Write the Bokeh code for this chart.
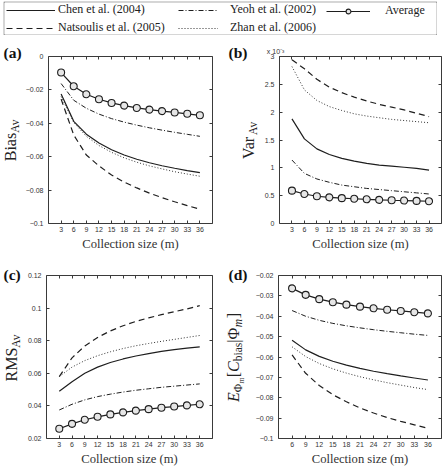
import math
from bokeh.plotting import figure
from bokeh.layouts import column, row
from bokeh.models import (Range1d, LinearAxis, FixedTicker, Legend, LegendItem,
                          Label, CustomJSTickFormatter, Spacer)
from bokeh.embed import file_html
from bokeh.resources import INLINE

# ---------------- data ----------------
collection_size = [3, 6, 9, 12, 15, 18, 21, 24, 27, 30, 33, 36]
collection_size_d = [6, 9, 12, 15, 18, 21, 24, 27, 30, 33, 36]

# (a) Bias_Av
bias_chen = [-0.0224, -0.0388, -0.0465, -0.0518, -0.0558, -0.0590, -0.0615, -0.0636, -0.0654, -0.0669, -0.0683, -0.0695]
bias_natsoulis = [-0.0255, -0.0470, -0.0590, -0.0655, -0.0710, -0.0752, -0.0787, -0.0818, -0.0845, -0.0870, -0.0893, -0.0914]
bias_yeoh = [-0.0162, -0.0262, -0.0310, -0.0345, -0.0372, -0.0393, -0.0411, -0.0427, -0.0441, -0.0454, -0.0466, -0.0478]
bias_zhan = [-0.0240, -0.0395, -0.0478, -0.0533, -0.0574, -0.0607, -0.0633, -0.0655, -0.0673, -0.0690, -0.0704, -0.0717]
bias_average = [-0.0096, -0.0178, -0.0226, -0.0256, -0.0278, -0.0294, -0.0308, -0.0318, -0.0327, -0.0335, -0.0343, -0.0352]

# (b) Var_Av  (x 10^-3)
var_chen = [1.88, 1.52, 1.34, 1.24, 1.17, 1.12, 1.08, 1.05, 1.03, 1.01, 0.99, 0.96]
var_natsoulis = [2.94, 2.78, 2.59, 2.45, 2.35, 2.27, 2.20, 2.14, 2.09, 2.04, 1.98, 1.92]
var_yeoh = [1.14, 0.90, 0.80, 0.74, 0.69, 0.66, 0.63, 0.61, 0.59, 0.57, 0.55, 0.53]
var_zhan = [2.82, 2.40, 2.21, 2.10, 2.03, 1.97, 1.93, 1.90, 1.87, 1.85, 1.83, 1.81]
var_average = [0.59, 0.53, 0.49, 0.47, 0.455, 0.445, 0.435, 0.425, 0.418, 0.412, 0.406, 0.40]

# (c) RMS_Av
rms_chen = [0.049, 0.0548, 0.0600, 0.0638, 0.0666, 0.0688, 0.0706, 0.0721, 0.0734, 0.0745, 0.0754, 0.0762]
rms_natsoulis = [0.058, 0.0695, 0.0768, 0.0820, 0.0860, 0.0892, 0.0918, 0.0940, 0.0960, 0.0978, 0.0995, 0.1015]
rms_yeoh = [0.0375, 0.0410, 0.0437, 0.0457, 0.0472, 0.0485, 0.0496, 0.0505, 0.0514, 0.0521, 0.0528, 0.0535]
rms_zhan = [0.058, 0.0638, 0.0678, 0.0708, 0.0732, 0.0752, 0.0769, 0.0783, 0.0796, 0.0808, 0.0820, 0.0832]
rms_average = [0.026, 0.029, 0.0315, 0.0333, 0.0348, 0.0360, 0.0371, 0.0380, 0.0389, 0.0396, 0.0403, 0.0410]

# (d) E[C_bias | Phi_m]
cbias_chen = [-0.0518, -0.0565, -0.0597, -0.0621, -0.0640, -0.0656, -0.0670, -0.0682, -0.0693, -0.0703, -0.0713]
cbias_natsoulis = [-0.0590, -0.0680, -0.0740, -0.0785, -0.0820, -0.0850, -0.0875, -0.0897, -0.0916, -0.0933, -0.0950]
cbias_yeoh = [-0.0372, -0.0400, -0.0420, -0.0435, -0.0447, -0.0457, -0.0466, -0.0474, -0.0481, -0.0488, -0.0494]
cbias_zhan = [-0.0550, -0.0598, -0.0632, -0.0658, -0.0679, -0.0697, -0.0712, -0.0726, -0.0738, -0.0750, -0.0760]
cbias_average = [-0.0263, -0.0295, -0.0316, -0.0331, -0.0343, -0.0353, -0.0361, -0.0368, -0.0374, -0.0380, -0.0386]

series_names = ["Chen et al. (2004)", "Natsoulis et al. (2005)", "Yeoh et al. (2002)",
                "Zhan et al. (2006)", "Average"]

bias_ticks = [0, -0.02, -0.04, -0.06, -0.08, -0.1]
bias_tick_labels = ["0", "\u22120.02", "\u22120.04", "\u22120.06", "\u22120.08", "\u22120.1"]
var_ticks = [0, 0.5, 1, 1.5, 2, 2.5, 3]
var_tick_labels = ["0", "0.5", "1", "1.5", "2", "2.5", "3"]
rms_ticks = [0.02, 0.04, 0.06, 0.08, 0.1, 0.12]
rms_tick_labels = ["0.02", "0.04", "0.06", "0.08", "0.1", "0.12"]
cbias_ticks = [-0.02, -0.03, -0.04, -0.05, -0.06, -0.07, -0.08, -0.09, -0.1]
cbias_tick_labels = ["\u22120.02", "\u22120.03", "\u22120.04", "\u22120.05", "\u22120.06",
                     "\u22120.07", "\u22120.08", "\u22120.09", "\u22120.1"]
x_label = "Collection size (m)"
var_scale_label = "x 10\u207b\u00b3\u00a0\u00a0\u00a0\u00a0"

# ---------------- styles ----------------
INK = "#1e1e1e"
STYLE = {
    "chen": dict(line_color=INK, line_width=1.2, line_dash="solid"),
    "natsoulis": dict(line_color=INK, line_width=1.2, line_dash="6 4"),
    "yeoh": dict(line_color=INK, line_width=1.0, line_dash="5 2 1 2"),
    "zhan": dict(line_color="#333333", line_width=1.0, line_dash="1 2"),
    "average": dict(line_color=INK, line_width=1.2, line_dash="solid"),
}
SERIF = "Liberation Serif"
SANS = "Liberation Sans"
TICK_FS = "7px"
MID = 0.3375  # em-box middle above the baseline (Liberation Serif)


def no_frame_align(f):
    if "frame_align" in f.properties():
        f.frame_align = False


def mirror_axis(ticks, overrides=None):
    ax = LinearAxis(ticker=FixedTicker(ticks=ticks),
                    formatter=CustomJSTickFormatter(code="return ''"),
                    major_tick_in=3, major_tick_out=0, minor_tick_in=0, minor_tick_out=0,
                    axis_line_color=None, major_tick_line_color="#3a3a3a",
                    major_label_standoff=0, major_label_text_font_size="1px")
    if overrides:
        ax.major_label_overrides = overrides
        ax.major_label_text_font = SANS
        ax.major_label_text_font_size = TICK_FS
        ax.major_label_text_color = "#333333"
        ax.major_label_standoff = 2
    return ax


def make_panel(xs, data, x_range, y_range, yticks, ylabels, w, h, bl, br, bt, bb,
               top_ticks=None, top_overrides=None):
    p = figure(width=w, height=h, x_range=Range1d(*x_range), y_range=Range1d(*y_range),
               output_backend="svg", toolbar_location=None,
               min_border_left=bl, min_border_right=br, min_border_top=bt, min_border_bottom=bb)
    p.grid.visible = False
    p.outline_line_color = "#3a3a3a"
    p.outline_line_width = 1
    p.border_fill_color = "white"

    xa = p.xaxis[0]
    xa.ticker = FixedTicker(ticks=xs)
    xa.major_tick_in = 3
    xa.major_tick_out = 0
    xa.minor_tick_in = 0
    xa.minor_tick_out = 0
    xa.axis_line_color = None
    xa.major_tick_line_color = "#3a3a3a"
    xa.major_label_text_font = SANS
    xa.major_label_text_font_size = TICK_FS
    xa.major_label_text_color = "#333333"
    xa.major_label_standoff = 3
    xa.axis_label = x_label
    xa.axis_label_text_font = SERIF
    xa.axis_label_text_font_size = "12.6px"
    xa.axis_label_text_font_style = "normal"
    xa.axis_label_text_color = "#333333"
    xa.axis_label_standoff = 2

    ya = p.yaxis[0]
    ya.ticker = FixedTicker(ticks=yticks)
    ya.major_label_overrides = dict(zip(yticks, ylabels))
    ya.major_tick_in = 3
    ya.major_tick_out = 0
    ya.minor_tick_in = 0
    ya.minor_tick_out = 0
    ya.axis_line_color = None
    ya.major_tick_line_color = "#3a3a3a"
    ya.major_label_text_font = SANS
    ya.major_label_text_font_size = TICK_FS
    ya.major_label_text_color = "#333333"
    ya.major_label_standoff = 5

    p.add_layout(mirror_axis(top_ticks or xs, top_overrides), "above")
    p.add_layout(mirror_axis(yticks), "right")

    for key in ["natsoulis", "zhan", "chen", "yeoh"]:
        p.line(xs, data[key], **STYLE[key])
    p.line(xs, data["average"], **STYLE["average"])
    p.scatter(xs, data["average"], marker="circle", size=7, line_color=INK,
              line_width=1.1, fill_color="#e6e6e6")
    return p


def label_fig(w, h):
    f = figure(width=w, height=h, output_backend="svg", toolbar_location=None,
               min_border_left=0, min_border_right=0, min_border_top=0, min_border_bottom=0,
               x_axis_location=None, y_axis_location=None,
               x_range=Range1d(0, 1), y_range=Range1d(0, 1))
    f.grid.visible = False
    f.outline_line_color = None
    no_frame_align(f)
    return f


# width table (em) for Liberation Serif, used to chain rotated label pieces
EM = {"B": .667, "i": .278, "a": .444, "s": .389, "V": .722, "r": .333, "R": .667,
      "M": .889, "S": .556, "A": .722, "v": .5, "[": .333, "|": .2, "]": .333,
      "b": .5, "\u03a6": .762, "m": .778, "E": .611, "C": .667}


def text_len(t, size):
    return sum(EM.get(c, .5) for c in t) * size


def y_label(f, pieces, baseline_x, y_mid):
    total = sum(text_len(t, s) for t, s, st, dx in pieces)
    y = y_mid - total / 2
    for t, s, st, dx in pieces:
        f.add_layout(Label(x=baseline_x + dx - MID * s, y=y, x_units="screen", y_units="screen",
                           text=t, angle=math.pi / 2, text_align="left", text_baseline="middle",
                           text_font=SERIF, text_font_size=f"{s}px", text_font_style=st,
                           text_color="#222222"))
        y += text_len(t, s)


TAG_FS = 15.5


def panel_tag(f, t, x, baseline_y):
    f.add_layout(Label(x=x, y=baseline_y + MID * TAG_FS, x_units="screen", y_units="screen",
                       text=t, text_align="left", text_baseline="middle", text_font=SERIF,
                       text_font_size=f"{TAG_FS}px", text_font_style="bold",
                       text_color="#111111"))


XR = (0, 39)
XRD = (3, 39)
TOP0 = 35                      # page y where the panel rows start
H1, BT1, BB1 = 223, 21, 35     # row 1: frame 56 -> 223
H2, BT2, BB2 = 210, 17, 29     # row 2: frame 275 -> 439
FH1 = H1 - BT1 - BB1
FH2 = H2 - BT2 - BB2

# row 1 widths: label a | panel a | label b | panel b
LA, PA_BL, PA_BR = 22, 24, 9
LB, PB_BL, PB_BR = 40, 16, 1
# row 2 widths
LC, PC_BL, PC_BR = 22, 24, 9
LD, PD_BL, PD_BR = 31, 25, 1
FW1, FW2 = 166, 164

pa = make_panel(collection_size,
                dict(chen=bias_chen, natsoulis=bias_natsoulis, yeoh=bias_yeoh, zhan=bias_zhan, average=bias_average),
                XR, (-0.1, 0), bias_ticks, bias_tick_labels, PA_BL + FW1 + PA_BR, H1, PA_BL, PA_BR, BT1, BB1)
pb_top_ticks = [0] + collection_size
pb_top_labels = {t: "" for t in collection_size}
pb_top_labels[0] = var_scale_label
pb = make_panel(collection_size,
                dict(chen=var_chen, natsoulis=var_natsoulis, yeoh=var_yeoh, zhan=var_zhan, average=var_average),
                XR, (0, 3), var_ticks, var_tick_labels, PB_BL + FW2 + PB_BR, H1, PB_BL, PB_BR, BT1, BB1,
                top_ticks=pb_top_ticks, top_overrides=pb_top_labels)
pc = make_panel(collection_size,
                dict(chen=rms_chen, natsoulis=rms_natsoulis, yeoh=rms_yeoh, zhan=rms_zhan, average=rms_average),
                XR, (0.02, 0.12), rms_ticks, rms_tick_labels, PC_BL + FW1 + PC_BR, H2, PC_BL, PC_BR, BT2, BB2)
pd_ = make_panel(collection_size_d,
                 dict(chen=cbias_chen, natsoulis=cbias_natsoulis, yeoh=cbias_yeoh, zhan=cbias_zhan, average=cbias_average),
                 XRD, (-0.1, -0.02), cbias_ticks, cbias_tick_labels, PD_BL + FW2 + PD_BR, H2, PD_BL, PD_BR, BT2, BB2)

la = label_fig(LA, H1)
lb = label_fig(LB, H1)
lc = label_fig(LC, H2)
ld = label_fig(LD, H2)

BIG, SUB = 16, 11.5
y_label(la, [("Bias", BIG, "normal", 0), ("Av", SUB, "normal", 3)], 15.5, BB1 + FH1 / 2)
y_label(lb, [("Var", BIG, "normal", 0), ("Av", SUB, "normal", 3)], 32.3, BB1 + FH1 / 2)
y_label(lc, [("RMS", BIG, "normal", 0), ("Av", SUB, "normal", 3)], 16.2, BB2 + FH2 / 2)
y_label(ld, [("E", BIG, "italic", 0), ("\u03a6", SUB, "normal", 3), ("m", 8, "italic", 5),
             ("[", BIG, "normal", 0), ("C", BIG, "italic", 0), ("bias", SUB, "normal", 3),
             ("|", BIG, "normal", 0), ("\u03a6", BIG, "normal", 0), ("m", SUB, "italic", 3),
             ("]", BIG, "normal", 0)], 17.7, BB2 + FH2 / 2)

panel_tag(la, "(a)", 3, H1 - (57.5 - TOP0))
panel_tag(lb, "(b)", 7, H1 - (57.5 - TOP0))
panel_tag(lc, "(c)", 3, H2 - (279 - TOP0 - H1))
panel_tag(ld, "(d)", 7, H2 - (279 - TOP0 - H1))

# ---------------- legend figure ----------------
# legend samples reuse series data; the ranges keep them out of view.
# a 1px border fill around a white frame draws the legend box.
LEG_W, LEG_H = 434, 34
pl = figure(width=LEG_W, height=LEG_H, output_backend="svg", toolbar_location=None,
            min_border_left=1, min_border_right=1, min_border_top=1, min_border_bottom=1,
            x_axis_location=None, y_axis_location=None,
            x_range=Range1d(1000, 1001), y_range=Range1d(1000, 1001))
pl.grid.visible = False
pl.outline_line_color = None
pl.border_fill_color = "#5a5a5a"
pl.background_fill_color = "white"
no_frame_align(pl)

r_chen = pl.line(collection_size, bias_chen, **STYLE["chen"])
r_nats = pl.line(collection_size, bias_natsoulis, **STYLE["natsoulis"])
r_yeoh = pl.line(collection_size, bias_yeoh, **STYLE["yeoh"])
r_zhan = pl.line(collection_size, bias_zhan, **STYLE["zhan"])
r_avg_l = pl.line(collection_size, bias_average, **STYLE["average"])
r_avg_m = pl.scatter(collection_size, bias_average, marker="circle", size=7, line_color=INK,
                     line_width=1.1, fill_color="#e6e6e6")

common = dict(orientation="vertical", border_line_color=None, background_fill_alpha=0,
              label_text_font=SERIF, label_text_font_size="12px", label_text_color="#222222",
              label_height=12, glyph_height=12, padding=2, spacing=3, margin=0)

leg1 = Legend(items=[LegendItem(label=series_names[0], renderers=[r_chen]),
                     LegendItem(label=series_names[1], renderers=[r_nats])],
              location=(2, -1), glyph_width=49, label_standoff=3, **common)
leg2 = Legend(items=[LegendItem(label=series_names[2], renderers=[r_yeoh]),
                     LegendItem(label=series_names[3], renderers=[r_zhan])],
              location=(174, -1), glyph_width=40, label_standoff=12, **common)
leg3 = Legend(items=[LegendItem(label=series_names[4], renderers=[r_avg_l, r_avg_m])],
              location=(322, 15.6), glyph_width=44, label_standoff=15, **common)
for lg in (leg1, leg2, leg3):
    pl.add_layout(lg, "center")

layout = column(Spacer(width=3, height=1),
                row(Spacer(width=3, height=LEG_H), pl),
                row(la, pa, lb, pb),
                row(lc, pc, ld, pd_))

with open("out.html", "w") as f:
    f.write(file_html(layout, INLINE))
